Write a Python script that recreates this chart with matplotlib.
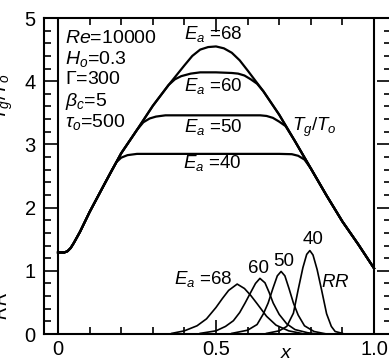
import numpy as np
import matplotlib
matplotlib.use("Agg")
import matplotlib.pyplot as plt
from matplotlib.ticker import MultipleLocator

plt.rcParams['font.family'] = ['Liberation Sans', 'DejaVu Sans']
plt.rcParams['mathtext.fontset'] = 'custom'
plt.rcParams['mathtext.rm'] = 'Liberation Sans'
plt.rcParams['mathtext.it'] = 'Liberation Sans:italic'

# gas temperature Tg/To along x, one curve per activation energy
x_68 = [0, 0.01, 0.02, 0.03, 0.04, 0.05, 0.06, 0.07, 0.1, 0.15, 0.2, 0.25, 0.3, 0.35,
        0.4, 0.425, 0.45, 0.475, 0.5, 0.525, 0.55, 0.575, 0.6, 0.65, 0.7, 0.75,
        0.8, 0.85, 0.9, 0.95, 1.0]
t_68 = [1.29, 1.29, 1.29, 1.31, 1.36, 1.44, 1.53, 1.62, 1.93, 2.40, 2.86, 3.23, 3.61, 3.94,
        4.25, 4.40, 4.50, 4.54, 4.55, 4.52, 4.45, 4.33, 4.17, 3.84, 3.47, 3.05,
        2.62, 2.19, 1.78, 1.42, 1.04]

x_60 = [0, 0.01, 0.02, 0.03, 0.04, 0.05, 0.06, 0.07, 0.1, 0.15, 0.2, 0.25, 0.3, 0.35,
        0.37, 0.39, 0.42, 0.45, 0.5, 0.55, 0.57, 0.59, 0.61, 0.63, 0.65, 0.7, 0.75,
        0.8, 0.85, 0.9, 0.95, 1.0]
t_60 = [1.29, 1.29, 1.29, 1.31, 1.36, 1.44, 1.53, 1.62, 1.93, 2.40, 2.86, 3.23, 3.61, 3.94,
        4.03, 4.08, 4.12, 4.14, 4.14, 4.13, 4.12, 4.09, 4.03, 3.96, 3.84, 3.47, 3.05,
        2.62, 2.19, 1.78, 1.42, 1.04]

x_50 = [0, 0.01, 0.02, 0.03, 0.04, 0.05, 0.06, 0.07, 0.1, 0.15, 0.2, 0.25, 0.27, 0.29,
        0.31, 0.34, 0.4, 0.5, 0.6, 0.64, 0.66, 0.68, 0.7, 0.72, 0.75,
        0.8, 0.85, 0.9, 0.95, 1.0]
t_50 = [1.29, 1.29, 1.29, 1.31, 1.36, 1.44, 1.53, 1.62, 1.93, 2.40, 2.86, 3.23, 3.35, 3.41,
        3.44, 3.46, 3.46, 3.46, 3.46, 3.46, 3.45, 3.42, 3.36, 3.29, 3.05,
        2.62, 2.19, 1.78, 1.42, 1.04]

x_40 = [0, 0.01, 0.02, 0.03, 0.04, 0.05, 0.06, 0.07, 0.1, 0.15, 0.17, 0.185, 0.2, 0.22,
        0.25, 0.3, 0.4, 0.5, 0.6, 0.7, 0.74, 0.76, 0.78, 0.8, 0.85, 0.9, 0.95, 1.0]
t_40 = [1.29, 1.29, 1.29, 1.31, 1.36, 1.44, 1.53, 1.62, 1.93, 2.40, 2.59, 2.72, 2.79, 2.83,
        2.85, 2.85, 2.85, 2.85, 2.85, 2.85, 2.845, 2.82, 2.76, 2.62, 2.19, 1.78, 1.42, 1.04]

# reaction rate RR
rx_68 = [0.36, 0.40, 0.44, 0.47, 0.50, 0.52, 0.54, 0.567, 0.59, 0.61, 0.63, 0.66, 0.69, 0.73, 0.77]
rr_68 = [0.01, 0.05, 0.13, 0.24, 0.42, 0.56, 0.69, 0.79, 0.72, 0.61, 0.48, 0.28, 0.14, 0.05, 0.01]

rx_60 = [0.45, 0.50, 0.53, 0.555, 0.575, 0.592, 0.61, 0.625, 0.639, 0.655, 0.668, 0.681,
         0.70, 0.724, 0.75, 0.79, 0.82]
rr_60 = [0.01, 0.05, 0.12, 0.21, 0.34, 0.49, 0.66, 0.80, 0.88, 0.81, 0.66, 0.49,
         0.31, 0.16, 0.07, 0.02, 0.0]

rx_50 = [0.55, 0.60, 0.63, 0.65, 0.665, 0.68, 0.694, 0.706, 0.718, 0.731, 0.745, 0.76,
         0.78, 0.81, 0.85]
rr_50 = [0.01, 0.06, 0.15, 0.32, 0.49, 0.72, 0.92, 0.99, 0.92, 0.72, 0.49, 0.30,
         0.13, 0.04, 0.0]

rx_40 = [0.66, 0.70, 0.724, 0.745, 0.76, 0.775, 0.787, 0.797, 0.807, 0.82, 0.834, 0.85,
         0.865, 0.877, 0.90]
rr_40 = [0.01, 0.05, 0.12, 0.33, 0.70, 1.05, 1.26, 1.32, 1.25, 1.02, 0.70, 0.32,
         0.12, 0.04, 0.01]

params = [r"$Re$=10000", r"$H_o$=0.3", r"$\Gamma$=300", r"$\beta_c$=5", r"$\tau_o$=500"]
param_y = [4.67, 4.35, 4.03, 3.68, 3.35]

fig = plt.figure(figsize=(3.89, 3.58), dpi=100)
ax = fig.add_axes([44/389, 24/358, 347/389, 316/358])

for xs, ts in [(x_68, t_68), (x_60, t_60), (x_50, t_50), (x_40, t_40)]:
    ax.plot(xs, ts, color='black', lw=1.6)
for xs, rs in [(rx_68, rr_68), (rx_60, rr_60), (rx_50, rr_50), (rx_40, rr_40)]:
    ax.plot(xs, rs, color='black', lw=1.2)

ax.axvline(0, color='black', lw=1.5)
ax.axvline(1.0, color='black', lw=1.5)

ax.set_xlim(-14/316, 333/316)
ax.set_ylim(0, 5)
ax.xaxis.set_minor_locator(MultipleLocator(0.1))
ax.yaxis.set_major_locator(MultipleLocator(1))
ax.yaxis.set_minor_locator(MultipleLocator(0.2))
ax.set_xticks([0, 0.5, 1.0])
ax.set_xticklabels(['0', '0.5', '1.0'])
ax.tick_params(which='both', direction='in', top=True, right=True, labelsize=14.5, width=1.2)
ax.tick_params(which='major', length=10)
ax.tick_params(which='minor', length=5)
ax.tick_params(axis='y', pad=6)
ax.tick_params(axis='x', pad=4)
for s in ax.spines.values():
    s.set_linewidth(1.5)

for t, y in zip(params, param_y):
    ax.text(0.022, y, t, fontsize=14, ha='left', va='center')

ax.text(0.49, 4.75, r"$E_a$ =68", fontsize=13.5, ha='center', va='center')
ax.text(0.49, 3.92, r"$E_a$ =60", fontsize=13.5, ha='center', va='center')
ax.text(0.49, 3.27, r"$E_a$ =50", fontsize=13.5, ha='center', va='center')
ax.text(0.487, 2.71, r"$E_a$ =40", fontsize=13.5, ha='center', va='center')
ax.text(0.81, 3.27, r"$T_g/T_o$", fontsize=13.5, ha='center', va='center')

ax.text(0.46, 0.87, r"$E_a$ =68", fontsize=13.5, ha='center', va='center')
ax.text(0.636, 1.03, "60", fontsize=13.5, ha='center', va='center')
ax.text(0.715, 1.14, "50", fontsize=13.5, ha='center', va='center')
ax.text(0.807, 1.49, "40", fontsize=13.5, ha='center', va='center')
ax.text(0.877, 0.81, r"$RR$", fontsize=13.5, ha='center', va='center')

fig.text(3/389, 1 - 97/358, r"$T_g/T_o$", rotation=90, fontsize=14, ha='center', va='center')
fig.text(3/389, 1 - 305/358, r"$RR$", rotation=90, fontsize=14, ha='center', va='center')
fig.text(287/389, 1 - 354/358, r"$x$", fontsize=14, ha='center', va='center')

fig.savefig('out.png', dpi=100)
